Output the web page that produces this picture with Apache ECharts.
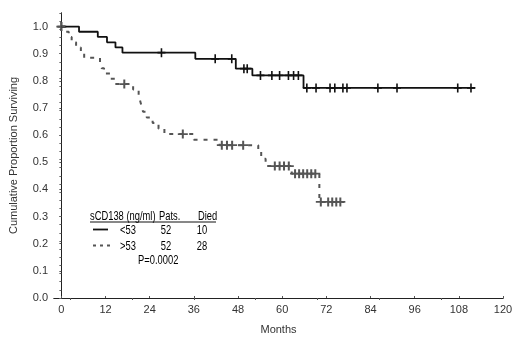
<!DOCTYPE html>
<html>
<head>
<meta charset="utf-8">
<script src="https://cdn.jsdelivr.net/npm/echarts@6/dist/echarts.min.js"></script>
<style>
  html, body { margin: 0; padding: 0; background: #fff; }
  #chart { width: 520px; height: 343px; }
</style>
</head>
<body>
<div id="chart"></div>
<script>
// months / survival of the low sCD138 group (<53)
var lowT = [0, 4.8, 9.9, 12.4, 14.7, 16.6, 36.4, 47.4, 51.9, 65.8, 112.5];
var lowS = [1.0, 0.981, 0.962, 0.942, 0.923, 0.904, 0.881, 0.845, 0.820, 0.774, 0.774];
var lowCensT = [0, 27.2, 41.8, 46.3, 49.6, 50.5, 54.1, 57.2, 59.3, 61.7, 63.1, 64.4, 66.7, 69.2, 73.0, 74.3, 76.5, 77.6, 86.0, 91.2, 107.7, 111.3];
var lowCensS = [1.0, 0.904, 0.881, 0.881, 0.845, 0.845, 0.820, 0.820, 0.820, 0.820, 0.820, 0.820, 0.774, 0.774, 0.774, 0.774, 0.774, 0.774, 0.774, 0.774, 0.774, 0.774];

// high sCD138 group (>53)
var highT = [0, 1.2, 2.0, 2.8, 4.0, 5.3, 6.2, 10.5, 11.0, 11.6, 13.3, 14.6, 19.5, 21.0, 21.4, 21.8, 22.2, 23.2, 24.8, 26.4, 28.0, 36.0, 43.0, 53.5, 54.3, 55.5, 62.6, 70.1, 76.8];
var highS = [1.0, 0.981, 0.962, 0.942, 0.923, 0.904, 0.885, 0.865, 0.846, 0.827, 0.808, 0.788, 0.768, 0.747, 0.727, 0.706, 0.686, 0.665, 0.645, 0.624, 0.604, 0.583, 0.563, 0.540, 0.513, 0.486, 0.458, 0.354, 0.354];
var highCensT = [0, 17.1, 33.0, 43.6, 45.0, 46.4, 49.4, 58.0, 59.3, 60.5, 61.8, 63.5, 64.6, 65.7, 66.8, 67.9, 69.0, 70.5, 72.5, 73.6, 74.7, 75.8];
var highCensS = [1.0, 0.788, 0.604, 0.563, 0.563, 0.563, 0.563, 0.486, 0.486, 0.486, 0.486, 0.458, 0.458, 0.458, 0.458, 0.458, 0.458, 0.354, 0.354, 0.354, 0.354, 0.354];

var xTicks = [0, 12, 24, 36, 48, 60, 72, 84, 96, 108, 120];
var yTicks = [0, 0.1, 0.2, 0.3, 0.4, 0.5, 0.6, 0.7, 0.8, 0.9, 1.0];
var topTicks = [2.4, 19.2, 36, 52.8, 69.6, 86.4, 103.2];

function pairs(t, s) {
  return t.map(function (v, i) { return [v, s[i]]; });
}

var plus = 'path://M4,0H6V4H10V6H6V10H4V6H0V4H4Z';
var axisCol = '#222';
var labelFont = { color: '#333', fontSize: 11, fontFamily: 'Liberation Sans, Arial, sans-serif' };
var legFont = '13px "Liberation Sans", Arial, sans-serif';

// narrow legend text: regular font squeezed horizontally
function legText(txt, x, y, align) {
  return {
    type: 'text', x: x, y: y, scaleX: 0.72,
    style: { text: txt, font: legFont, fill: '#000', align: align || 'left', verticalAlign: 'middle' }
  };
}

var option = {
  animation: false,
  backgroundColor: '#fff',
  grid: { left: 52, right: 17, top: 13, bottom: 45 },
  xAxis: [
    {
      type: 'value', min: -2, max: 120,
      name: 'Months', nameLocation: 'middle', nameGap: 26,
      nameTextStyle: labelFont,
      axisLine: { show: true, lineStyle: { color: axisCol, width: 1 } },
      axisTick: { show: true, inside: true, length: 2, customValues: xTicks, lineStyle: { color: '#555' } },
      axisLabel: Object.assign({ customValues: xTicks, margin: 6 }, labelFont),
      splitLine: { show: false }
    },
    {
      type: 'value', min: -2, max: 120, position: 'top',
      axisLine: { show: true, lineStyle: { color: axisCol, width: 1 } },
      axisTick: { show: true, inside: true, length: 2, customValues: topTicks, lineStyle: { color: '#555' } },
      axisLabel: { show: false },
      splitLine: { show: false }
    }
  ],
  yAxis: [
    {
      type: 'value', min: 0, max: 1.05,
      name: 'Cumulative Proportion Surviving', nameLocation: 'middle', nameGap: 35,
      nameTextStyle: labelFont,
      axisLine: { show: true, lineStyle: { color: axisCol, width: 1 } },
      axisTick: { show: true, inside: false, length: 2, customValues: yTicks, lineStyle: { color: '#555' } },
      axisLabel: Object.assign({ customValues: yTicks, margin: 6, formatter: function (v) { return v.toFixed(1); } }, labelFont),
      splitLine: { show: false }
    },
    {
      type: 'value', min: 0, max: 1.05, interval: 0.03, position: 'right',
      axisLine: { show: true, lineStyle: { color: axisCol, width: 1 } },
      axisTick: { show: true, inside: true, length: 2, lineStyle: { color: '#666' } },
      axisLabel: { show: false },
      splitLine: { show: false }
    }
  ],
  series: [
    {
      type: 'line', step: 'end', symbol: 'none', silent: true,
      data: pairs(lowT, lowS),
      lineStyle: { color: '#111', width: 1.8 }
    },
    {
      type: 'line', step: 'end', symbol: 'none', silent: true,
      data: pairs(highT, highS),
      lineStyle: { color: '#555', width: 2, type: [4, 6] }
    },
    {
      type: 'scatter', symbol: plus, symbolSize: [8, 9], silent: true,
      data: pairs(lowCensT, lowCensS),
      itemStyle: { color: '#111', opacity: 1 }
    },
    {
      type: 'scatter', symbol: plus, symbolSize: [10, 9], silent: true,
      data: pairs(highCensT, highCensS),
      itemStyle: { color: '#555', opacity: 1 }
    }
  ],
  graphic: [
    legText('sCD138 (ng/ml)', 90, 216),
    legText('Pats.', 159, 216),
    legText('Died', 198, 216),
    { type: 'line', shape: { x1: 90, y1: 222, x2: 216, y2: 222 }, style: { stroke: '#111', lineWidth: 1 } },
    { type: 'line', shape: { x1: 93, y1: 229.5, x2: 108, y2: 229.5 }, style: { stroke: '#111', lineWidth: 1.8 } },
    legText('<53', 120, 230),
    legText('52', 166, 230, 'center'),
    legText('10', 202, 230, 'center'),
    { type: 'line', shape: { x1: 93, y1: 245.5, x2: 110, y2: 245.5 }, style: { stroke: '#555', lineWidth: 1.8, lineDash: [3, 4] } },
    legText('>53', 120, 246.5),
    legText('52', 166, 246.5, 'center'),
    legText('28', 202, 246.5, 'center'),
    legText('P=0.0002', 138, 260)
  ]
};

var chart = echarts.init(document.getElementById('chart'), null, { renderer: 'canvas' });
chart.setOption(option);
</script>
</body>
</html>
